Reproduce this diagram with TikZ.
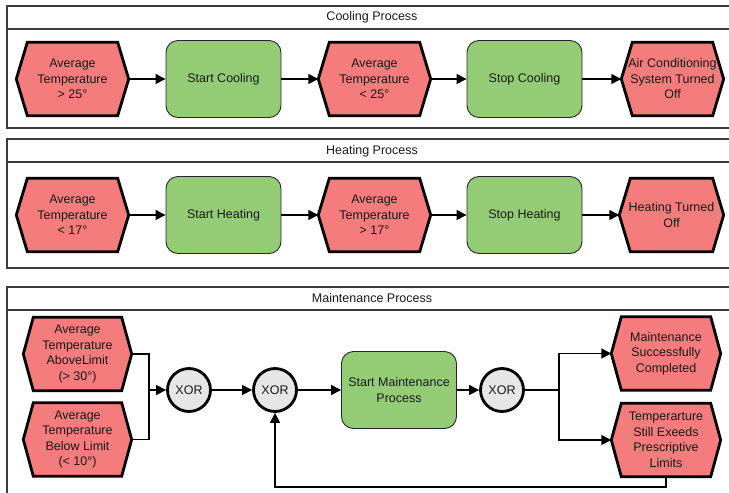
\documentclass[tikz,border=0pt]{standalone}
\usepackage{fontspec}
\setmainfont{Liberation Sans}
\usetikzlibrary{arrows.meta,backgrounds,calc}
\definecolor{evred}{RGB}{244,124,124}
\definecolor{fngreen}{RGB}{148,204,118}
\definecolor{xorgray}{RGB}{230,230,230}
\definecolor{panelline}{RGB}{60,60,60}
\tikzset{
  txt/.style={font=\fontsize{12.5pt}{15.5pt}\selectfont, align=center, text=black!90},
  evt/.style={txt, rectangle, inner sep=0pt, minimum width=#1, minimum height=73pt},
  evt/.default=112pt,
  fn/.style={txt, rectangle, rounded corners=12pt, draw=black!85, line width=0.9pt, fill=fngreen, minimum width=115pt, minimum height=77pt, inner sep=0pt},
  xorn/.style={txt, circle, draw=black, line width=2.8pt, fill=xorgray, minimum size=43pt, inner sep=0pt},
  hexline/.style={draw=black, line width=2.8pt, fill=evred, line join=miter},
  panel/.style={draw=panelline, line width=1.2pt},
  arr/.style={line width=1.4pt, -{Triangle[length=10pt,width=10pt]}},
  ln/.style={line width=1.4pt},
  ttl/.style={txt}
}
\newcommand{\hexdraw}[2]{%
  \path[hexline] (#1.west) -- ([xshift=#2]#1.north west) -- ([xshift=-#2]#1.north east) -- (#1.east) -- ([xshift=-#2]#1.south east) -- ([xshift=#2]#1.south west) -- cycle;}
\begin{document}
\begin{tikzpicture}[x=1pt,y=-1pt]
\useasboundingbox (0,0) rectangle (729,493);
% panels
\draw[panel] (7,6) rectangle (738,128);
\draw[panel] (7,29) -- (738,29);
\node[ttl] (t1) at (372,17) {Cooling Process};
\draw[panel] (7,139) rectangle (738,268);
\draw[panel] (7,162) -- (738,162);
\node[ttl] (t2) at (372,151) {Heating Process};
\draw[panel] (7,287) rectangle (738,505);
\draw[panel] (7,310) -- (738,310);
\node[ttl] (t3) at (372,298) {Maintenance Process};
% row 1
\node[evt] (c1) at (72.5,79) {Average\\Temperature\\> 25°};
\node[fn] (c2) at (223.5,79) {Start Cooling};
\node[evt] (c3) at (374.5,79) {Average\\Temperature\\< 25°};
\node[fn] (c4) at (524.5,79) {Stop Cooling};
\node[evt=102pt] (c5) at (672.5,79) {Air Conditioning\\System Turned\\Off};
% row 2
\node[evt] (h1) at (72.5,215) {Average\\Temperature\\< 17°};
\node[fn] (h2) at (223.5,215) {Start Heating};
\node[evt] (h3) at (374.5,215) {Average\\Temperature\\> 17°};
\node[fn] (h4) at (524.5,215) {Stop Heating};
\node[evt=104pt] (h5) at (671.5,215) {Heating Turned\\Off};
% row 3
\node[evt=108pt] (mA) at (77.5,354) {Average\\Temperature\\AboveLimit\\(> 30°)};
\node[evt=108pt] (mB) at (77.5,439.5) {Average\\Temperature\\Below Limit\\(< 10°)};
\node[xorn] (x1) at (189,390) {XOR};
\node[xorn] (x2) at (275,390) {XOR};
\node[fn] (sm) at (399,390) {Start Maintenance\\Process};
\node[xorn] (x3) at (502,390) {XOR};
\node[evt=109pt] (mC) at (666,353.5) {Maintenance\\Successfully\\Completed};
\node[evt=109pt] (mD) at (666,440) {Temperarture\\Still Exeeds\\Prescriptive\\Limits};
\coordinate (j) at (149,390);
\coordinate (s) at (559,390);
\coordinate (fb) at (275,487);
% hexagons behind text
\begin{scope}[on background layer]
\foreach \n in {c1,c3,c5,h1,h3,h5} {\hexdraw{\n}{11pt}}
\foreach \n in {mA,mB,mC,mD} {\hexdraw{\n}{10pt}}
\end{scope}
% connectors
\draw[arr] (c1.east) -- (c2.west);
\draw[arr] (c2.east) -- (c3.west);
\draw[arr] (c3.east) -- (c4.west);
\draw[arr] (c4.east) -- (c5.west);
\draw[arr] (h1.east) -- (h2.west);
\draw[arr] (h2.east) -- (h3.west);
\draw[arr] (h3.east) -- (h4.west);
\draw[arr] (h4.east) -- (h5.west);
\draw[ln] (mA.east) -| (j);
\draw[ln] (mB.east) -| (j);
\draw[arr] (j) -- (x1.west);
\draw[arr] (x1.east) -- (x2.west);
\draw[arr] (x2.east) -- (sm.west);
\draw[arr] (sm.east) -- (x3.west);
\draw[ln] (x3.east) -- (s);
\draw[arr] (s) |- (mC.west);
\draw[arr] (s) |- (mD.west);
\draw[arr] (mD.south) |- (fb) -- (x2.south);
\end{tikzpicture}
\end{document}
